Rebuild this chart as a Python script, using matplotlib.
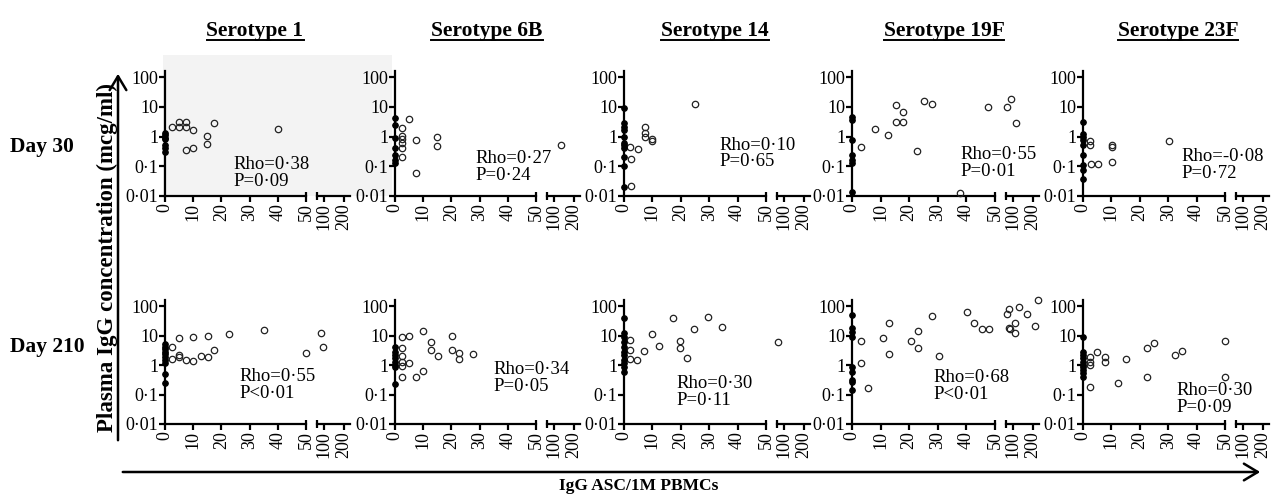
import matplotlib
matplotlib.use('Agg')
import matplotlib.pyplot as plt
from matplotlib.patches import FancyArrowPatch, Rectangle
from matplotlib.lines import Line2D
from matplotlib.ticker import NullLocator
import numpy as np

W, H = 1272, 494
plt.rcParams['font.family'] = ['Liberation Serif', 'DejaVu Serif']

serotypes = ['Serotype 1', 'Serotype 6B', 'Serotype 14', 'Serotype 19F', 'Serotype 23F']
days = ['Day 30', 'Day 210']
ytick_vals = [0.01, 0.1, 1, 10, 100]
ytick_labels = ['0·01', '0·1', '1', '10', '100']
xtick_main = [0, 10, 20, 30, 40, 50]
xtick_break = [100, 200]

# ---------------- Day 30 ----------------
s1_d30_zero = [1.3, 1.1, 0.9, 0.8, 0.5, 0.4, 0.3]
s1_d30_x = [2.4, 5.1, 5.1, 7.5, 7.5, 10, 7.5, 10, 15, 15, 17.5, 40]
s1_d30_y = [2.1, 3.2, 2.1, 3.2, 2.1, 1.6, 0.35, 0.4, 1.05, 0.55, 2.8, 1.8]

s6b_d30_zero = [4.1, 2.5, 0.87, 0.4, 0.24, 0.16, 0.13]
s6b_d30_x = [5.1, 2.4, 2.4, 2.4, 2.4, 2.4, 2.4, 7.4, 7.4, 15, 15, 133]
s6b_d30_y = [3.8, 1.9, 1.05, 0.8, 0.6, 0.4, 0.2, 0.75, 0.06, 0.93, 0.48, 0.52]

s14_d30_zero = [9, 2.8, 2.1, 1.7, 1.0, 0.59, 0.52, 0.4, 0.21, 0.1, 0.02]
s14_d30_x = [2.0, 2.4, 2.4, 5.0, 7.5, 7.5, 7.5, 10, 10, 25]
s14_d30_y = [0.43, 0.17, 0.022, 0.37, 2.1, 1.3, 1.0, 0.85, 0.7, 12]

s19f_d30_zero = [4.7, 3.6, 0.76, 0.24, 0.16, 0.13, 0.014]
s19f_d30_x = [3.0, 8.0, 12.7, 15.4, 15.4, 17.9, 17.9, 22.9, 25.2, 27.8, 37.8, 47.7, 68.5, 90, 115]
s19f_d30_y = [0.44, 1.8, 1.1, 11.5, 3.2, 6.9, 3.0, 0.32, 16, 12, 0.013, 9.6, 10, 18, 2.8]

s23f_d30_zero = [3.2, 1.2, 0.98, 0.76, 0.52, 0.24, 0.11, 0.075, 0.036]
s23f_d30_x = [2.5, 2.5, 2.7, 5.2, 10.3, 10.3, 10.3, 30.3]
s23f_d30_y = [0.7, 0.52, 0.12, 0.12, 0.5, 0.46, 0.14, 0.73]

# ---------------- Day 210 ----------------
s1_d210_zero = [5.2, 4.2, 3.4, 2.8, 2.4, 1.9, 1.5, 1.15, 0.49, 0.25]
s1_d210_x = [2.4, 2.4, 5.1, 5.1, 5.1, 7.5, 10, 10, 12.7, 15.1, 15.1, 17.5, 22.7, 35.2, 50, 84, 94]
s1_d210_y = [4.2, 1.6, 8, 2.2, 1.9, 1.5, 9.1, 1.4, 2.0, 9.8, 1.8, 3.2, 11.2, 15.4, 2.6, 12.5, 4.2]

s6b_d210_zero = [4.2, 2.8, 2.2, 1.7, 1.3, 1.0, 0.83, 0.23]
s6b_d210_x = [2.4, 2.4, 2.4, 2.4, 2.4, 2.4, 5.1, 5.1, 7.4, 10, 10, 12.7, 12.7, 15.1, 20.1, 20.1, 22.7, 22.7, 27.6]
s6b_d210_y = [8.7, 3.7, 2.0, 1.3, 0.93, 0.38, 10, 1.2, 0.38, 14, 0.65, 5.9, 3.2, 2.1, 10, 3.2, 2.6, 1.6, 2.4]

s14_d210_zero = [38, 12, 8.7, 6.2, 4.2, 2.8, 2.2, 1.5, 1.2, 0.83, 0.59]
s14_d210_x = [2.1, 2.1, 2.1, 4.7, 7.2, 9.8, 12.4, 17.2, 19.7, 19.7, 22.1, 24.6, 29.7, 34.6, 72]
s14_d210_y = [7.1, 3.2, 1.6, 1.5, 2.9, 11.2, 4.5, 38, 6.5, 3.7, 1.7, 16, 43, 20, 5.9]

s19f_d210_zero = [49, 17.4, 13.4, 9.2, 0.87, 0.59, 0.31, 0.27, 0.14]
s19f_d210_x = [3.1, 3.1, 5.7, 10.7, 13, 13, 20.5, 23, 23, 27.8, 30.4, 40.3, 42.8, 45.3, 47.9,
               71.5, 81.5, 80, 85, 110, 110, 130, 171.5, 210, 226.5]
s19f_d210_y = [6.6, 1.15, 0.17, 8, 26, 2.4, 6.5, 14.5, 3.9, 47, 2.1, 61, 27, 16.6, 16.6,
               54, 79, 17.4, 17, 27, 12.4, 95, 54, 21.6, 160]

s23f_d210_zero = [8.7, 2.8, 2.2, 1.7, 1.3, 1.0, 0.83, 0.68, 0.52, 0.40]
s23f_d210_x = [2.5, 2.5, 2.5, 2.5, 5.0, 7.7, 7.7, 12.4, 15, 22.4, 22.4, 25, 32.4, 35, 50, 50]
s23f_d210_y = [1.8, 1.3, 1.0, 0.18, 2.8, 1.8, 1.3, 0.25, 1.6, 3.7, 0.4, 5.5, 2.2, 2.9, 6.6, 0.4]

rho_d30 = ['Rho=0·38', 'Rho=0·27', 'Rho=0·10', 'Rho=0·55', 'Rho=-0·08']
p_d30 = ['P=0·09', 'P=0·24', 'P=0·65', 'P=0·01', 'P=0·72']
rho_d210 = ['Rho=0·55', 'Rho=0·34', 'Rho=0·30', 'Rho=0·68', 'Rho=0·30']
p_d210 = ['P<0·01', 'P=0·05', 'P=0·11', 'P<0·01', 'P=0·09']

panels = [
    [(s1_d30_zero, s1_d30_x, s1_d30_y), (s6b_d30_zero, s6b_d30_x, s6b_d30_y),
     (s14_d30_zero, s14_d30_x, s14_d30_y), (s19f_d30_zero, s19f_d30_x, s19f_d30_y),
     (s23f_d30_zero, s23f_d30_x, s23f_d30_y)],
    [(s1_d210_zero, s1_d210_x, s1_d210_y), (s6b_d210_zero, s6b_d210_x, s6b_d210_y),
     (s14_d210_zero, s14_d210_x, s14_d210_y), (s19f_d210_zero, s19f_d210_x, s19f_d210_y),
     (s23f_d210_zero, s23f_d210_x, s23f_d210_y)],
]
stats = [(rho_d30, p_d30), (rho_d210, p_d210)]

# ---------------- layout (pixels) ----------------
col_x0 = [165, 395, 624, 852, 1083]
col_x50 = [306, 536, 766, 995, 1225]
brk_x0 = [317, 547, 777, 1006, 1236]
brk_w = 33
row_top = [71, 300]
row_bot = [196, 424]
stat_pos = [[(233, 157), (475, 151), (719, 138), (960, 147), (1181, 149)],
            [(239, 369), (493, 362), (676, 376), (933, 370), (1176, 383)]]

fig = plt.figure(figsize=(W / 100, H / 100), dpi=100)


def fx(px):
    return px / W


def fy(py):
    return 1 - py / H


fig.add_artist(Rectangle((fx(163), fy(196)), (392 - 163) / W, (196 - 55) / H,
                         transform=fig.transFigure, facecolor='#f3f3f3',
                         edgecolor='none', zorder=-5))

LW = 1.6
TICK_FS = 13
for r in range(2):
    for c in range(5):
        zero, xs, ys = panels[r][c]
        xs = np.asarray(xs, float)
        ys = np.asarray(ys, float)
        hgt = (row_bot[r] - row_top[r]) / H
        ax = fig.add_axes([fx(col_x0[c]), fy(row_bot[r]), (col_x50[c] - col_x0[c]) / W, hgt])
        axb = fig.add_axes([fx(brk_x0[c]), fy(row_bot[r]), brk_w / W, hgt])
        for a in (ax, axb):
            a.set_facecolor('none')
            a.set_yscale('log')
            a.set_ylim(0.01, 160)
            a.yaxis.set_minor_locator(NullLocator())
            a.spines['top'].set_visible(False)
            a.spines['right'].set_visible(False)
            a.spines['bottom'].set_linewidth(LW)
            a.spines['left'].set_linewidth(LW)
            a.tick_params(axis='both', which='major', length=4, width=LW,
                          labelsize=TICK_FS, pad=1, direction='out')
        ax.set_xlim(0, 50)
        ax.set_xticks(xtick_main)
        ax.set_xticklabels([str(v) for v in xtick_main], rotation=90)
        ax.set_yticks(ytick_vals)
        ax.set_yticklabels(ytick_labels)
        axb.set_xlim(65, 230)
        axb.set_xticks(xtick_break)
        axb.set_xticklabels([str(v) for v in xtick_break], rotation=90)
        axb.spines['left'].set_visible(False)
        axb.set_yticks([])
        # end caps
        axb.plot([0, 0], [-0.035, 0.035], transform=axb.transAxes, color='black',
                 lw=LW, clip_on=False, solid_capstyle='butt')
        ax.plot([1, 1], [0, 0.035], transform=ax.transAxes, color='black',
                lw=LW, clip_on=False, solid_capstyle='butt')

        ax.plot(np.zeros(len(zero)), zero, 'o', ms=4.0, mfc='black', mec='black',
                mew=0.8, clip_on=False, zorder=5)
        m = xs <= 50
        ax.plot(xs[m], ys[m], 'o', ms=4.6, mfc='none', mec='#222222', mew=0.9,
                clip_on=False, zorder=4)
        if (~m).any():
            axb.plot(xs[~m], ys[~m], 'o', ms=4.6, mfc='none', mec='#222222', mew=0.9,
                     clip_on=False, zorder=4)

        lx, ty = stat_pos[r][c]
        fig.text(fx(lx), fy(ty + 12), stats[r][0][c], fontsize=13.5, ha='left', va='baseline')
        fig.text(fx(lx), fy(ty + 28.5), stats[r][1][c], fontsize=13.5, ha='left', va='baseline')

# titles
title_cx = [255, 487, 715, 944, 1178]
title_objs = []
for c in range(5):
    t = fig.text(fx(title_cx[c]), fy(36), serotypes[c], fontsize=15.5, fontweight='bold',
                 ha='center', va='baseline')
    title_objs.append(t)

fig.text(fx(10), fy(147), days[0], fontsize=15.5, fontweight='bold', ha='left', va='center')
fig.text(fx(10), fy(347), days[1], fontsize=15.5, fontweight='bold', ha='left', va='center')

fig.text(fx(107), fy(257), 'Plasma IgG concentration (mcg/ml)', fontsize=16.5,
         fontweight='bold', rotation=90, ha='center', va='center')
fig.text(fx(639), fy(490), 'IgG ASC/1M PBMCs', fontsize=12.5, fontweight='bold',
         ha='center', va='baseline')

# axis arrows
fig.add_artist(FancyArrowPatch((fx(118), fy(443)), (fx(118), fy(71)),
                               transform=fig.transFigure, arrowstyle='->,head_length=0.5,head_width=0.3',
                               mutation_scale=20, lw=1.8, color='black'))
fig.add_artist(FancyArrowPatch((fx(120), fy(472)), (fx(1263), fy(472)),
                               transform=fig.transFigure, arrowstyle='->,head_length=0.5,head_width=0.3',
                               mutation_scale=20, lw=1.8, color='black'))

# underline titles
fig.canvas.draw()
rend = fig.canvas.get_renderer()
for t in title_objs:
    bb = t.get_window_extent(rend)
    yline = fy(40)
    fig.add_artist(Line2D([bb.x0 / W, bb.x1 / W], [yline, yline], transform=fig.transFigure,
                          color='black', lw=1.4))

fig.savefig('out.png', dpi=100)
